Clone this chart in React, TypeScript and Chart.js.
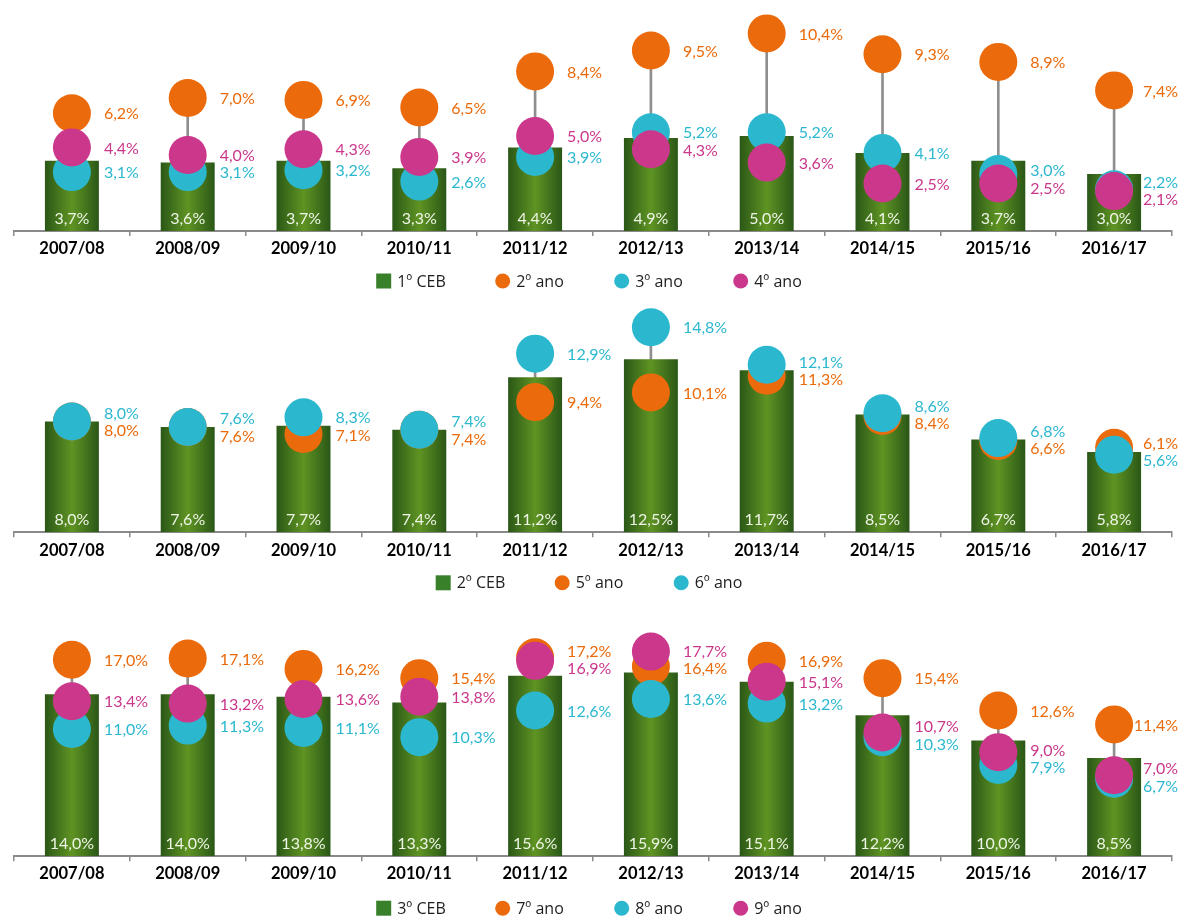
import React, { useEffect, useRef } from 'react';
import { Chart, registerables } from 'chart.js';

Chart.register(...registerables);

// ---------- DATA ----------
const CATEGORIES = ['2007/08', '2008/09', '2009/10', '2010/11', '2011/12', '2012/13', '2013/14', '2014/15', '2015/16', '2016/17'];

// Panel 1 – 1º CEB
const CEB1 = [3.7, 3.6, 3.7, 3.3, 4.4, 4.9, 5.0, 4.1, 3.7, 3.0];
const ANO2 = [6.2, 7.0, 6.9, 6.5, 8.4, 9.5, 10.4, 9.3, 8.9, 7.4];
const ANO3 = [3.1, 3.1, 3.2, 2.6, 3.9, 5.2, 5.2, 4.1, 3.0, 2.2];
const ANO4 = [4.4, 4.0, 4.3, 3.9, 5.0, 4.3, 3.6, 2.5, 2.5, 2.1];

// Panel 2 – 2º CEB
const CEB2 = [8.0, 7.6, 7.7, 7.4, 11.2, 12.5, 11.7, 8.5, 6.7, 5.8];
const ANO5 = [8.0, 7.6, 7.1, 7.4, 9.4, 10.1, 11.3, 8.4, 6.6, 6.1];
const ANO6 = [8.0, 7.6, 8.3, 7.4, 12.9, 14.8, 12.1, 8.6, 6.8, 5.6];

// Panel 3 – 3º CEB
const CEB3 = [14.0, 14.0, 13.8, 13.3, 15.6, 15.9, 15.1, 12.2, 10.0, 8.5];
const ANO7 = [17.0, 17.1, 16.2, 15.4, 17.2, 16.4, 16.9, 15.4, 12.6, 11.4];
const ANO8 = [11.0, 11.3, 11.1, 10.3, 12.6, 13.6, 13.2, 10.3, 7.9, 6.7];
const ANO9 = [13.4, 13.2, 13.6, 13.8, 16.9, 17.7, 15.1, 10.7, 9.0, 7.0];

// ---------- STYLE ----------
const ORANGE = '#EB6A0B';
const CYAN = '#2BB8CF';
const MAGENTA = '#CB378B';
const LEGEND_GREEN = '#38802A';
const BAR_EDGE = '#2A5717';
const BAR_MID = '#5F9423';
const BAR_LABEL = '#EEF5E6';
const AXIS_GREY = '#8A8A8A';
const RANGE_GREY = '#8E8E8E';
const FONT = 'Lato, "Open Sans", sans-serif';
const LEGEND_FONT = '"Open Sans", Lato, sans-serif';
const BAR_PCT = 0.466;
const POINT_R = 19;
const LABEL_GAP = 17.5;
const LABEL_RIGHT = 1178;

const fmt = (v: number) => v.toFixed(1).replace('.', ',') + '%';

type Series = { label: string; data: number[]; color: string };
type Panel = {
  barLabel: string;
  bar: number[];
  series: Series[];
  yMax: number;
  top: number;
  height: number;
  padTop: number;
  padBottom: number;
  legendOffset: number;
};

const PANELS: Panel[] = [
  {
    barLabel: '1º CEB', bar: CEB1,
    series: [
      { label: '2º ano', data: ANO2, color: ORANGE },
      { label: '3º ano', data: ANO3, color: CYAN },
      { label: '4º ano', data: ANO4, color: MAGENTA },
    ],
    yMax: 12, top: 0, height: 300, padTop: 3, padBottom: 39, legendOffset: 50,
  },
  {
    barLabel: '2º CEB', bar: CEB2,
    series: [
      { label: '5º ano', data: ANO5, color: ORANGE },
      { label: '6º ano', data: ANO6, color: CYAN },
    ],
    yMax: 16, top: 300, height: 305, padTop: 10.7, padBottom: 42.7, legendOffset: 50.5,
  },
  {
    barLabel: '3º CEB', bar: CEB3,
    series: [
      { label: '7º ano', data: ANO7, color: ORANGE },
      { label: '8º ano', data: ANO8, color: CYAN },
      { label: '9º ano', data: ANO9, color: MAGENTA },
    ],
    yMax: 20, top: 605, height: 313, padTop: 20, padBottom: 31.8, legendOffset: 52,
  },
];

const barGradient = (c: any) => {
  const chart = c.chart;
  const xs = chart.scales && chart.scales.x;
  if (c.type !== 'data' || !xs || !chart.chartArea) return BAR_EDGE;
  const cx = xs.getPixelForValue(c.dataIndex);
  const hw = (xs.width / chart.data.labels.length) * BAR_PCT / 2;
  const g = chart.ctx.createLinearGradient(cx - hw, 0, cx + hw, 0);
  g.addColorStop(0, BAR_EDGE);
  g.addColorStop(0.5, BAR_MID);
  g.addColorStop(1, BAR_EDGE);
  return g;
};

const labelsPlugin = {
  id: 'valueLabels',
  afterDatasetsDraw(chart: any) {
    const { ctx } = chart;
    const ys = chart.scales.y;
    ctx.save();
    ctx.font = `16px ${FONT}`;
    ctx.textBaseline = 'middle';
    chart.data.datasets.forEach((ds: any, di: number) => {
      if (ds.role !== 'bar') return;
      const meta = chart.getDatasetMeta(di);
      meta.data.forEach((el: any, i: number) => {
        ctx.fillStyle = BAR_LABEL;
        ctx.textAlign = 'center';
        ctx.fillText(fmt(ds.data[i]), el.x, ys.bottom - 12);
      });
    });
    const n = chart.data.labels.length;
    for (let i = 0; i < n; i++) {
      const items: any[] = [];
      chart.data.datasets.forEach((ds: any, di: number) => {
        if (ds.role !== 'point') return;
        const el = chart.getDatasetMeta(di).data[i];
        items.push({ x: el.x, y: el.y, text: fmt(ds.data[i]), color: ds.labelColor, di });
      });
      items.sort((a, b) => (a.y - b.y) || (b.di - a.di));
      for (let it = 0; it < 80; it++) {
        let moved = false;
        for (let k = 1; k < items.length; k++) {
          const d = items[k].y - items[k - 1].y;
          if (d < LABEL_GAP - 0.01) {
            const p = (LABEL_GAP - d) / 2;
            items[k - 1].y -= p;
            items[k].y += p;
            moved = true;
          }
        }
        if (!moved) break;
      }
      ctx.textAlign = 'left';
      items.forEach((it) => {
        const w = ctx.measureText(it.text).width;
        const x = Math.min(it.x + 32, LABEL_RIGHT - w);
        ctx.fillStyle = it.color;
        ctx.fillText(it.text, x, it.y + 1);
      });
    }
    ctx.restore();
  },
};

const legendPlugin = {
  id: 'rowLegend',
  afterDraw(chart: any) {
    const { ctx, chartArea } = chart;
    const items = chart.data.datasets.filter((ds: any) => ds.role !== 'range');
    const offset = chart.options.plugins.rowLegend.offset;
    ctx.save();
    ctx.font = `16px ${LEGEND_FONT}`;
    const pitch = 119;
    const box = 15;
    const gap = 6;
    const last = items[items.length - 1];
    const lastW = box + gap + ctx.measureText(last.label).width;
    const total = (items.length - 1) * pitch + lastW;
    const cx = (chartArea.left + chartArea.right) / 2 - 4;
    let x = cx - total / 2;
    const y = chartArea.bottom + offset;
    items.forEach((ds: any) => {
      ctx.fillStyle = ds.legendColor;
      if (ds.role === 'bar') {
        ctx.fillRect(x, y - box / 2, box, box);
      } else {
        ctx.beginPath();
        ctx.arc(x + box / 2, y, box / 2, 0, Math.PI * 2);
        ctx.fill();
      }
      ctx.fillStyle = '#1E1E1E';
      ctx.textAlign = 'left';
      ctx.textBaseline = 'middle';
      ctx.fillText(ds.label, x + box + gap, y + 1);
      x += pitch;
    });
    ctx.restore();
  },
};

function PanelChart({ panel }: { panel: Panel }) {
  const ref = useRef<HTMLCanvasElement | null>(null);
  useEffect(() => {
    if (!ref.current) return;
    const range = CATEGORIES.map((_, i) => {
      const vals = panel.series.map((s) => s.data[i]);
      return [Math.min(...vals), Math.max(...vals)];
    });
    const n = panel.series.length;
    const datasets: any[] = [
      {
        type: 'bar',
        role: 'range',
        label: '',
        data: range,
        backgroundColor: RANGE_GREY,
        barThickness: 2,
        grouped: false,
        order: n + 2,
      },
      {
        type: 'bar',
        role: 'bar',
        label: panel.barLabel,
        data: panel.bar,
        backgroundColor: barGradient,
        legendColor: LEGEND_GREEN,
        barPercentage: BAR_PCT,
        categoryPercentage: 1,
        grouped: false,
        order: n + 1,
      },
      ...panel.series.map((s, k) => ({
        type: 'line',
        role: 'point',
        label: s.label,
        data: s.data,
        showLine: false,
        pointRadius: POINT_R,
        pointHoverRadius: POINT_R,
        pointBackgroundColor: s.color,
        pointBorderWidth: 0,
        borderColor: s.color,
        backgroundColor: s.color,
        legendColor: s.color,
        labelColor: s.color,
        clip: false,
        order: n - k,
      })),
    ];
    const chart = new Chart(ref.current, {
      type: 'bar',
      data: { labels: CATEGORIES, datasets },
      options: {
        animation: false,
        responsive: false,
        devicePixelRatio: 1,
        events: [],
        layout: {
          autoPadding: false,
          padding: { top: panel.padTop, bottom: panel.padBottom, left: 14, right: 10 },
        },
        plugins: {
          legend: { display: false },
          tooltip: { enabled: false },
          rowLegend: { offset: panel.legendOffset },
        } as any,
        scales: {
          x: {
            offset: true,
            grid: {
              display: true,
              drawOnChartArea: false,
              drawTicks: true,
              tickLength: 5,
              offset: true,
              color: AXIS_GREY,
              lineWidth: 1.5,
            },
            border: { display: true, color: AXIS_GREY, width: 2 },
            ticks: {
              color: '#000',
              font: { family: FONT, size: 16.5, weight: 'bold' },
              padding: 3,
              maxRotation: 0,
              autoSkip: false,
            },
            afterFit: (s: any) => { s.height = 30; },
          },
          y: { display: false, min: 0, max: panel.yMax },
        },
      } as any,
      plugins: [labelsPlugin, legendPlugin],
    });
    return () => chart.destroy();
  }, [panel]);
  return (
    <canvas
      ref={ref}
      width={1182}
      height={panel.height}
      style={{ position: 'absolute', left: 0, top: panel.top, width: 1182, height: panel.height }}
    />
  );
}

export default function App() {
  return (
    <div style={{ position: 'absolute', left: 0, top: 0, width: 1182, height: 918, background: '#fff' }}>
      {PANELS.map((p, i) => (
        <PanelChart key={i} panel={p} />
      ))}
    </div>
  );
}
